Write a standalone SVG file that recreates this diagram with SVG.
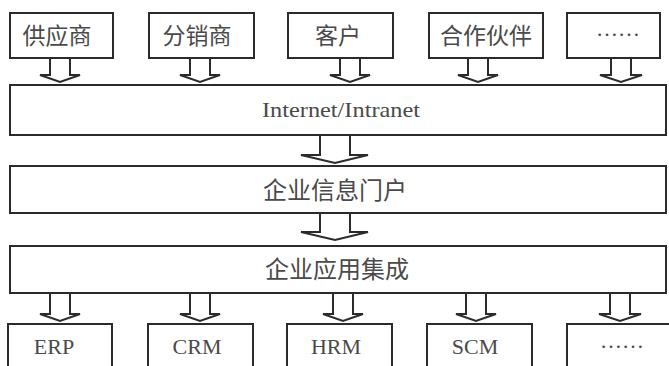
<svg xmlns="http://www.w3.org/2000/svg" width="669" height="366" viewBox="0 0 669 366">
<style>
.box{fill:#fff;stroke:#2b2b2b;stroke-width:2}
.arr{fill:#fff;stroke:#2b2b2b;stroke-width:2;stroke-linejoin:miter}
.cn{font-family:"Noto Sans CJK SC","Noto Sans CJK JP",sans-serif;font-size:23px;fill:#4a4a4a;text-anchor:middle}
.cw{font-size:24px}
.en{font-family:"Liberation Serif",serif;fill:#4a4a4a;text-anchor:middle}
.lbl{font-size:22px}
.dots{font-size:22px}
</style>
<rect width="669" height="366" fill="#fff"/>
<g id="connectors">
<path class="arr" d="M50,58 V75 H40 L60,82 L80,75 H70 V58"/>
<path class="arr" d="M190,58 V75 H180 L200,82 L220,75 H210 V58"/>
<path class="arr" d="M340,58 V75 H330 L350,82 L370,75 H360 V58"/>
<path class="arr" d="M468,58 V75 H458 L478,82 L498,75 H488 V58"/>
<path class="arr" d="M611,58 V75 H600 L621,82 L642,75 H631 V58"/>
<path class="arr" d="M320,135 V155 H301 L335,163 L368,155 H350 V135"/>
<path class="arr" d="M320,213 V232 H301 L335,240 L368,232 H350 V213"/>
<path class="arr" d="M50,293 V314 H40 L60,321 L80,314 H70 V293"/>
<path class="arr" d="M190,293 V314 H180 L200,321 L220,314 H210 V293"/>
<path class="arr" d="M333,293 V314 H323 L343,321 L363,314 H353 V293"/>
<path class="arr" d="M466,293 V314 H456 L476,321 L496,314 H486 V293"/>
<path class="arr" d="M610,293 V314 H599 L620,321 L641,314 H630 V293"/>
</g>
<g id="n-supplier"><rect class="box" x="10" y="13" width="103" height="45"/><text class="cn" x="57" y="44">供应商</text></g>
<g id="n-distributor"><rect class="box" x="149" y="13" width="105" height="45"/><text class="cn" x="197" y="44">分销商</text></g>
<g id="n-customer"><rect class="box" x="288" y="13" width="105" height="45"/><text class="cn" x="338" y="44">客户</text></g>
<g id="n-partner"><rect class="box" x="429" y="13" width="114" height="45"/><text class="cn" x="486" y="44">合作伙伴</text></g>
<g id="n-more-top"><rect class="box" x="567" y="13" width="93" height="45"/><text class="en dots" x="618" y="36">……</text></g>
<g id="n-internet"><rect class="box" x="10" y="85" width="656" height="50"/><text class="en" x="341" y="117" font-size="21" textLength="158" lengthAdjust="spacingAndGlyphs">Internet/Intranet</text></g>
<g id="n-portal"><rect class="box" x="10" y="166" width="656" height="47"/><text class="cn cw" x="335" y="199">企业信息门户</text></g>
<g id="n-eai"><rect class="box" x="10" y="246" width="656" height="47"/><text class="cn cw" x="337" y="278">企业应用集成</text></g>
<g id="n-erp"><rect class="box" x="8" y="324" width="104" height="50"/><text class="en lbl" x="54" y="354">ERP</text></g>
<g id="n-crm"><rect class="box" x="148" y="324" width="105" height="50"/><text class="en lbl" x="197" y="354">CRM</text></g>
<g id="n-hrm"><rect class="box" x="287" y="324" width="105" height="50"/><text class="en lbl" x="336" y="354">HRM</text></g>
<g id="n-scm"><rect class="box" x="427" y="324" width="105" height="50"/><text class="en lbl" x="475" y="354">SCM</text></g>
<g id="n-more-bottom"><rect class="box" x="567" y="324" width="110" height="50"/><text class="en dots" x="622" y="348">……</text></g>
</svg>
